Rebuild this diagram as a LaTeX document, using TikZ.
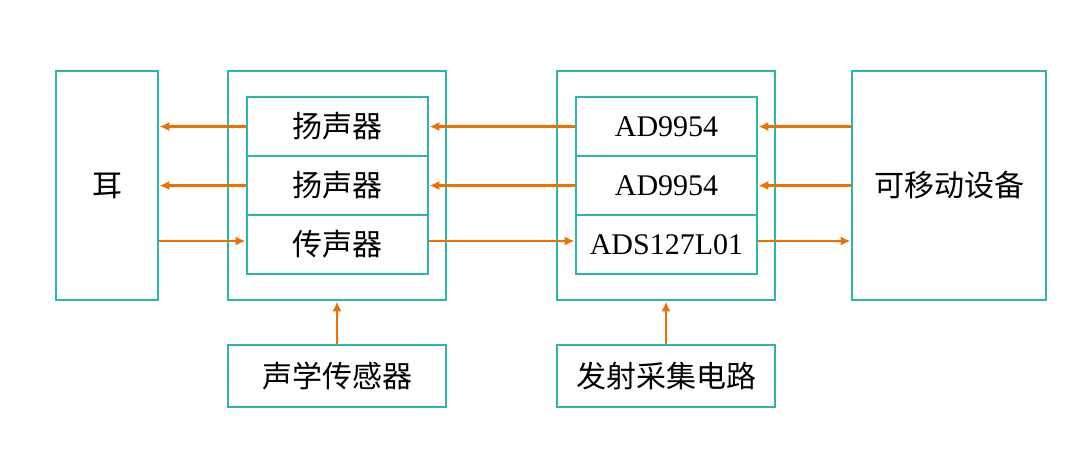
\documentclass[tikz,border=0pt]{standalone}
\usepackage{fontspec}
\setmainfont{Liberation Serif}
\newfontfamily\cjk{Noto Sans CJK SC}
\usetikzlibrary{arrows.meta}
\definecolor{boxteal}{HTML}{2DB5A9}
\definecolor{arrorange}{HTML}{EE7000}

\tikzset{
	blk/.style={draw=boxteal, line width=1.4pt, minimum width=#1, inner sep=0pt},
	cell/.style={blk=90.5pt, minimum height=29.5pt, font=\fontsize{15}{15}\selectfont},
	sig/.style={arrorange, line width=1.4pt, -{Latex[length=5pt,width=4.6pt]}}
}

\begin{document}
\begin{tikzpicture}[x=0.5pt, y=-0.5pt]
		\useasboundingbox (0,0) rectangle (1092,463);
		% outer blocks
		\node [blk=51pt, minimum height=114.5pt] (ear) at (107,185.5) {};
		\node [blk=109pt, minimum height=114.5pt] (lhost) at (337,185.5) {};
		\node [blk=109pt, minimum height=114.5pt] (rhost) at (666,185.5) {};
		\node [blk=97pt, minimum height=114.5pt, font=\fontsize{15}{15}\selectfont] (mobile) at (949,185.5) {\cjk 可移动设备};
		\node [font=\fontsize{15}{15}\selectfont] (earlbl) at (107,185.5) {\cjk 耳};
		% inner cells
		\node [cell] (spk1) at (337.5,126.5) {\cjk 扬声器};
		\node [cell] (spk2) at (337.5,185.5) {\cjk 扬声器};
		\node [cell] (mic) at (337.5,244.5) {\cjk 传声器};
		\node [cell] (dds1) at (666.5,126.5) {AD9954};
		\node [cell] (dds2) at (666.5,185.5) {AD9954};
		\node [cell] (adc) at (666.5,244.5) {ADS127L01};
		% bottom blocks
		\node [blk=109pt, minimum height=31pt, font=\fontsize{15}{15}\selectfont] (sensor) at (337,376) {\cjk 声学传感器};
		\node [blk=109pt, minimum height=31pt, font=\fontsize{15}{15}\selectfont] (circuit) at (666,376) {\cjk 发射采集电路};
		% signals
		\foreach \s/\d in {spk1/dds1, spk2/dds2} {
			\draw [sig] (\s.west) -- (\s.west -| ear.east);
			\draw [sig] (\d.west) -- (\d.west -| spk1.east);
			\draw [sig] (\d.east -| mobile.west) -- (\d.east);
		}
		\draw [sig] ([yshift=1.75pt]mic.west -| ear.east) -- ([yshift=1.75pt]mic.west);
		\draw [sig] ([yshift=1.75pt]mic.east) -- ([yshift=1.75pt]adc.west);
		\draw [sig] ([yshift=1.75pt]adc.east) -- ([yshift=1.75pt]adc.east -| mobile.west);
		\draw [sig] (sensor.north) -- (lhost.south);
		\draw [sig] (circuit.north) -- (rhost.south);
	\end{tikzpicture}
\end{document}
